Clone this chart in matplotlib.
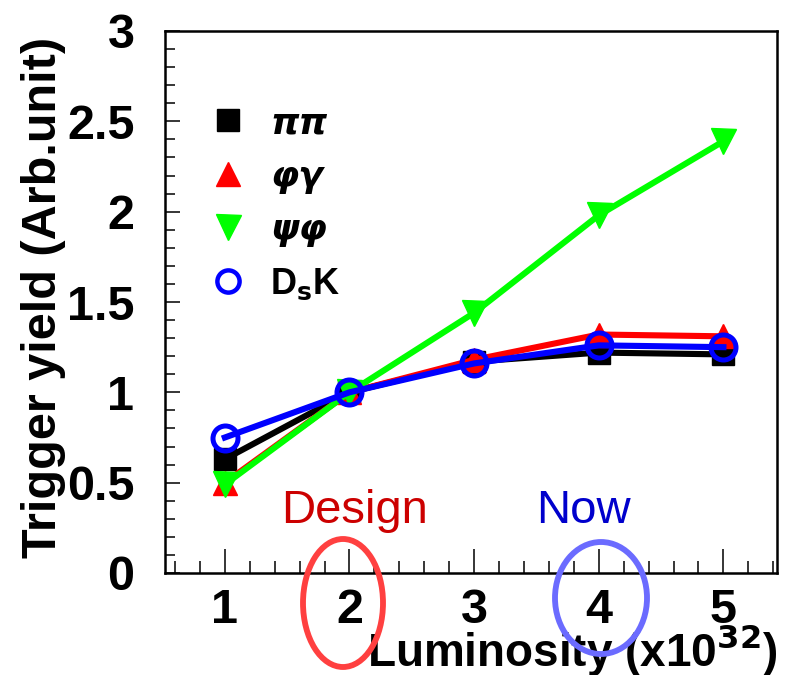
import matplotlib
matplotlib.use("Agg")
import matplotlib.pyplot as plt
from matplotlib.lines import Line2D
from matplotlib.patches import Ellipse
from matplotlib.ticker import MultipleLocator

# ---- data ----
luminosity = [1, 2, 3, 4, 5]
pipi = [0.63, 1.00, 1.17, 1.22, 1.21]
phigamma = [0.50, 1.00, 1.18, 1.32, 1.31]
psiphi = [0.49, 1.00, 1.44, 1.98, 2.39]
dsk = [0.75, 1.00, 1.16, 1.26, 1.25]
series_labels = ["\u03c0\u03c0", "\u03c6\u03b3", "\u03c8\u03c6", r"D$_\mathbf{s}$K"]
xticks = [1, 2, 3, 4, 5]
yticks = [0, 0.5, 1, 1.5, 2, 2.5, 3]
ytick_labels = ["0", "0.5", "1", "1.5", "2", "2.5", "3"]

FONT = "Liberation Sans"
W, H = 787, 675
fig = plt.figure(figsize=(W / 100, H / 100), dpi=100)
L, R, T, B = 165, 777, 31, 573
ax = fig.add_axes([L / W, (H - B) / H, (R - L) / W, (B - T) / H])

lw = 4.4
ax.plot(luminosity, pipi, color="black", lw=lw, marker="s", ms=16, mfc="black", mec="black", zorder=3)
ax.plot(luminosity, phigamma, color="#ff0000", lw=lw, marker="^", ms=17, mfc="#ff0000", mec="#ff0000", zorder=4)
ax.plot(luminosity, psiphi, color="#00ff00", lw=lw, marker="v", ms=18, mfc="#00ff00", mec="#00ff00", zorder=5)
ax.plot(luminosity, dsk, color="#0000ff", lw=lw, marker="o", ms=18, mfc="none", mec="#0000ff", mew=3.6, zorder=6)

ax.set_xlim(0.52, 5.43)
ax.set_ylim(0, 3.0)
ax.set_xticks(xticks)
ax.set_xticklabels([str(v) for v in xticks])
ax.set_yticks(yticks)
ax.set_yticklabels(ytick_labels)
ax.xaxis.set_minor_locator(MultipleLocator(0.2))
ax.yaxis.set_minor_locator(MultipleLocator(0.1))
ax.tick_params(axis="x", which="major", direction="in", length=17, width=1.1, pad=11,
               top=False, labelsize=35)
ax.tick_params(axis="x", which="minor", direction="in", length=8.5, width=1.1, top=False)
ax.tick_params(axis="y", which="major", direction="in", length=11, width=1.1, pad=22,
               right=False, labelsize=35)
ax.tick_params(axis="y", which="minor", direction="in", length=7.5, width=1.1, right=False)
for lab in ax.get_xticklabels() + ax.get_yticklabels():
    lab.set_fontfamily(FONT)
    lab.set_fontweight("bold")
for sp in ax.spines.values():
    sp.set_linewidth(1.8)

ax.set_xlabel(r"Luminosity (x10$^{\mathbf{32}}$)", fontsize=33, fontfamily=FONT, fontweight="bold")
ax.xaxis.label.set_ha("right")
ax.xaxis.label.set_va("baseline")
ax.xaxis.set_label_coords((778 - L) / (R - L), -(666 - B) / (B - T))
ax.set_ylabel("Trigger yield (Arb.unit)", fontsize=35, fontfamily=FONT, fontweight="bold")
ax.yaxis.label.set_va("center")
ax.yaxis.set_label_coords((44 - L) / (R - L), (B - 297) / (B - T))

# legend (markers only)
handles = [
    Line2D([], [], ls="none", marker="s", ms=16, color="black"),
    Line2D([], [], ls="none", marker="^", ms=17, color="#ff0000"),
    Line2D([], [], ls="none", marker="v", ms=18, color="#00ff00"),
    Line2D([], [], ls="none", marker="o", ms=16, mfc="none", mec="#0000ff", mew=3.2),
]
leg = ax.legend(handles, series_labels, loc="upper left",
                bbox_to_anchor=((210 - L) / (R - L), (B - 106) / (B - T)),
                frameon=False, borderpad=0, borderaxespad=0, handlelength=1.0,
                handletextpad=0.67, labelspacing=0.54,
                prop={"family": ["DejaVu Sans"], "size": 26, "weight": "bold", "style": "italic"})
leg.get_texts()[3].set_style("normal")
leg.get_texts()[3].set_fontfamily(FONT)

# annotations
fig.text(355 / W, (H - 523) / H, "Design", color="#cc0000", fontsize=34, fontfamily=FONT,
         ha="center", va="baseline")
fig.text(583 / W, (H - 523) / H, "Now", color="#0000cc", fontsize=34, fontfamily=FONT,
         ha="center", va="baseline")
fig.add_artist(Ellipse((343 / W, (H - 603) / H), 80 / W, 128 / H, transform=fig.transFigure,
                       fill=False, edgecolor="#ff4040", lw=4.2, zorder=10))
fig.add_artist(Ellipse((601 / W, (H - 598) / H), 92 / W, 112 / H, transform=fig.transFigure,
                       fill=False, edgecolor="#6b6bff", lw=4.2, zorder=10))

fig.savefig("out.png", dpi=100)
